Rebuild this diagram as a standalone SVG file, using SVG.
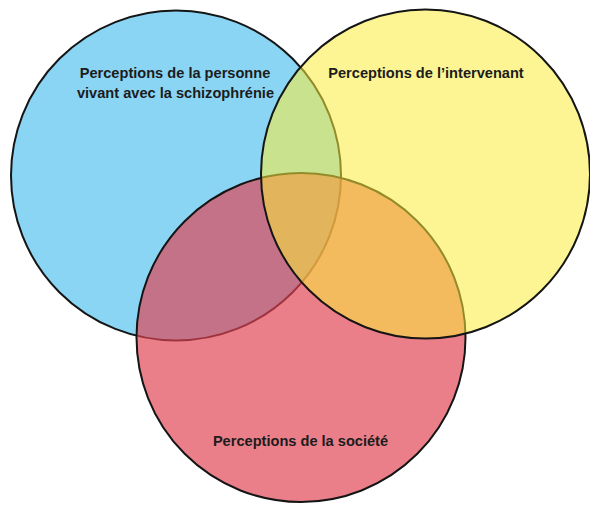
<svg xmlns="http://www.w3.org/2000/svg" width="590" height="505" viewBox="0 0 590 505">
  <style>
    .c { stroke: #151515; stroke-width: 2; }
    .t { font-family: "Liberation Sans", Arial, sans-serif; font-weight: bold; font-size: 14.6px; fill: #1c1c1c; text-anchor: middle; }
  </style>
  <rect width="590" height="505" fill="#ffffff"/>
  <g id="personne">
    <circle class="c" cx="176" cy="175.5" r="165" fill="#8ad5f4"/>
  </g>
  <g id="societe">
    <circle class="c" cx="301" cy="337.5" r="164.5" fill="#e04353" fill-opacity="0.68"/>
  </g>
  <g id="intervenant">
    <circle class="c" cx="425.5" cy="174" r="164.5" fill="#fbec3a" fill-opacity="0.55"/>
  </g>
  <g id="labels">
    <text class="t" x="175" y="78">Perceptions de la personne</text>
    <text class="t" x="175.5" y="98">vivant avec la schizophrénie</text>
    <text class="t" x="426" y="78">Perceptions de l’intervenant</text>
    <text class="t" x="300.5" y="446">Perceptions de la société</text>
  </g>
  <g id="connectors"></g>
</svg>
